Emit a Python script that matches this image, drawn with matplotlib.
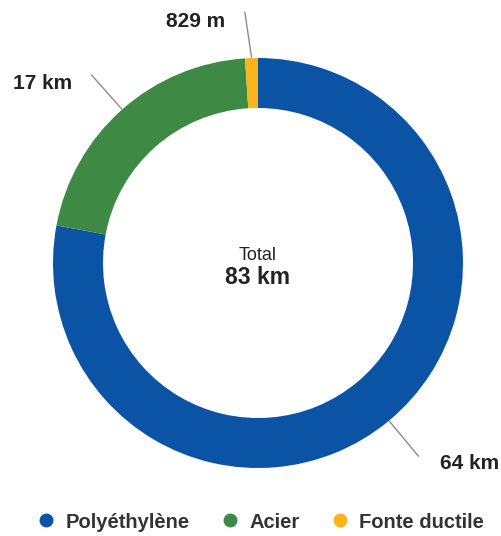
import numpy as np
import matplotlib
matplotlib.use("Agg")
import matplotlib.pyplot as plt
from matplotlib.lines import Line2D

# Network length by pipe material (km)
materials = ["Polyéthylène", "Acier", "Fonte ductile"]
lengths_km = [64.4, 17.4, 0.829]
colors = ["#0b53a4", "#3e8a45", "#f8b51c"]


def fmt_length(km):
    if km < 1:
        return f"{km * 1000:.0f} m"
    return f"{km:.0f} km"


W, H = 501, 536
fig = plt.figure(figsize=(W / 100, H / 100), dpi=100)
ax = fig.add_axes([0, 0, 1, 1])

cx, cy = 258, H - 263
R = 205
ring = 50

wedges, _ = ax.pie(
    lengths_km,
    colors=colors,
    startangle=90,
    counterclock=False,
    radius=R,
    center=(cx, cy),
    wedgeprops=dict(width=ring, linewidth=0),
    frame=True,
)
ax.set_xlim(0, W)
ax.set_ylim(0, H)
ax.set_aspect("equal")
ax.axis("off")

# Leader lines and value labels (small extra angle on the outer end)
label_style = dict(fontsize=15, fontweight="bold", color="#222222",
                   family="Liberation Sans")
offsets = [(22, -7), (-20, -8), (-20, -9)]
tilt = [0.0, 0.0, 1.2]
for w, val, (ox, oy), tl in zip(wedges, lengths_km, offsets, tilt):
    mid = np.deg2rad((w.theta1 + w.theta2) / 2)
    r0, r1 = R + 1, R + 46
    x0, y0 = cx + r0 * np.cos(mid), cy + r0 * np.sin(mid)
    end = mid + np.deg2rad(tl)
    x1, y1 = cx + r1 * np.cos(end), cy + r1 * np.sin(end)
    ax.plot([x0, x1], [y0, y1], color="#8a8a9a", lw=1)
    ha = "left" if np.cos(mid) > 0.05 else "right"
    ax.text(x1 + ox, y1 + oy, fmt_length(val), ha=ha, va="center", **label_style)

# Centre total
total = sum(lengths_km)
ax.text(cx, cy + 8, "Total", ha="center", va="center", fontsize=13,
        color="#222222", family="Liberation Sans")
ax.text(cx, cy - 14, fmt_length(total), ha="center", va="center",
        fontsize=16.5, fontweight="bold", color="#222222", family="Liberation Sans")

# Legend
handles = [Line2D([0], [0], marker="o", linestyle="", markersize=10,
                  markerfacecolor=c, markeredgewidth=0) for c in colors]
fig.legend(handles, materials, loc="center", bbox_to_anchor=(260 / W, (H - 522) / H),
           ncol=3, frameon=False, handletextpad=0.45, columnspacing=1.5,
           handlelength=1.0,
           prop=dict(family="Liberation Sans", weight="bold", size=14.5),
           labelcolor="#333333")

fig.savefig("out.png", dpi=100)
